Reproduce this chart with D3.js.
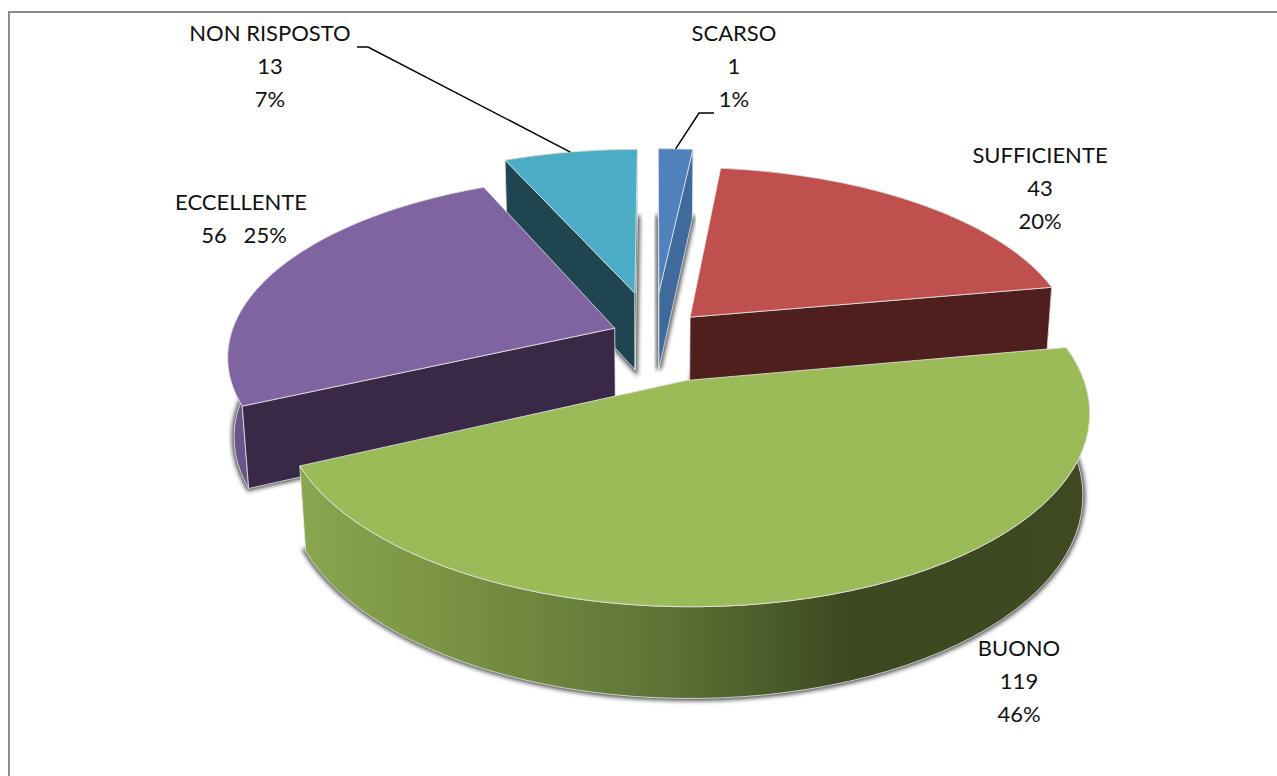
<!DOCTYPE html>
<html>
<head>
<meta charset="utf-8">
<script src="https://cdnjs.cloudflare.com/ajax/libs/d3/7.8.5/d3.min.js"></script>
<style>
  html, body { margin: 0; padding: 0; background: #fff; overflow: hidden; }
  text { font-family: Lato, "Open Sans", sans-serif; font-size: 22px; fill: #111; text-anchor: middle; }
</style>
</head>
<body>
<svg id="chart" width="1277" height="776"></svg>
<script>
// Data. The printed labels don't quite match the drawn
// angles, so the slice shares are kept apart from the printed numbers.
var categories = ["SCARSO", "SUFFICIENTE", "BUONO", "ECCELLENTE", "NON RISPOSTO"];
var counts = [1, 43, 119, 56, 13];
var percents = ["1%", "20%", "46%", "25%", "7%"];
var sliceShares = [1.7, 20.4, 45.9, 25.2, 6.6];
var explosion = [0.25, 0.14, 0.26, 0.11, 0.25];

var topColors = ["#4f81bd", "#c0504d", "#9bbb59", "#8064a2", "#4bacc6"];
var wallColors = ["#3f6a9c", "#4f1f1e", "#3e4a20", "#392947", "#1e4550"];
var rimColors = ["#3f6a9c", "#4f1f1e", "url(#greenRim)", "#6b5489", "#1e4550"];

var WIDTH = 1277, HEIGHT = 776;

// ── Projection ────────────────────────────────────────────────────
// Ground plane has radius 1, y grows towards the viewer, z is down the wall.
var CX = 654, CY = 335;
var K = 0.15, M = 0.015;
var xScale = d3.scaleLinear().domain([-1, 1]).range([CX - 384, CX + 384]);
var yScale = d3.scaleLinear().domain([-1, 1]).range([CY - 177, CY + 177]);
var zScale = d3.scaleLinear().domain([0, 1]).range([0, 80]);

function project(x, y, z) {
  var w = 1 - K * y + M * z;
  return [
    xScale(x / w),
    yScale(y / w) + zScale(z) / w
  ];
}

var pie = d3.pie().sort(null).value(function (d) { return d; });
var line = d3.line();

var slices = pie(sliceShares).map(function (arc, i) {
  var mid = (arc.startAngle + arc.endAngle) / 2;
  var ox = Math.sin(mid) * explosion[i];
  var oy = -Math.cos(mid) * explosion[i];
  var steps = d3.range(0, 61).map(function (s) {
    var a = arc.startAngle + (arc.endAngle - arc.startAngle) * s / 60;
    return [ox + Math.sin(a), oy - Math.cos(a)];
  });
  return { index: i, mid: mid, ox: ox, oy: oy, steps: steps };
});

function face(s, z) {
  var pts = s.steps.map(function (p) { return project(p[0], p[1], z); });
  pts.unshift(project(s.ox, s.oy, z));
  return pts;
}

// Signed screen area, used to drop the radial walls that face away.
function area(pts) {
  return d3.polygonArea(pts);
}

var svg = d3.select("#chart");
var defs = svg.append("defs");

var blur = defs.append("filter").attr("id", "soft")
  .attr("x", "-10%").attr("y", "-10%").attr("width", "120%").attr("height", "120%");
blur.append("feGaussianBlur").attr("stdDeviation", 2.2);

var grad = defs.append("linearGradient").attr("id", "greenRim")
  .attr("gradientUnits", "userSpaceOnUse")
  .attr("x1", 300).attr("y1", 0).attr("x2", 1090).attr("y2", 0);
[[0, "#8aa650"], [0.15, "#7d9745"], [0.45, "#5f7536"], [0.7, "#3c4820"], [1, "#3f4a22"]].forEach(function (s) {
  grad.append("stop").attr("offset", s[0]).attr("stop-color", s[1]);
});

// Frame runs off the right and bottom of the picture.
svg.append("rect")
  .attr("x", 9).attr("y", 12).attr("width", WIDTH + 40).attr("height", HEIGHT + 40)
  .attr("fill", "none").attr("stroke", "#8c8c8c").attr("stroke-width", 2);

// ── Shadows: blurred footprint of every slice ─────────────────────
svg.append("g").selectAll("path").data(slices).enter().append("path")
  .attr("d", function (s) { return line(face(s, 1)) + "Z"; })
  .attr("fill", "#555").attr("stroke", "#555").attr("stroke-width", 5)
  .attr("filter", "url(#soft)");

// ── Slices, far ones first ────────────────────────────────────────
var order = [4, 0, 1, 3, 2];

order.forEach(function (i) {
  var s = slices[i];
  var g = svg.append("g");
  var edge = { stroke: "#e9e9e9", width: 0.8 };

  var apexTop = project(s.ox, s.oy, 0), apexBot = project(s.ox, s.oy, 1);
  var first = s.steps[0], last = s.steps[s.steps.length - 1];

  // rim
  var rimTop = s.steps.map(function (p) { return project(p[0], p[1], 0); });
  var rimBot = s.steps.map(function (p) { return project(p[0], p[1], 1); });
  g.append("path")
    .attr("d", line(rimTop.concat(rimBot.reverse())) + "Z")
    .attr("fill", rimColors[i]).attr("stroke", edge.stroke).attr("stroke-width", edge.width);

  // radial walls
  var startWall = [apexTop, project(first[0], first[1], 0), project(first[0], first[1], 1), apexBot];
  var endWall = [apexTop, project(last[0], last[1], 0), project(last[0], last[1], 1), apexBot];
  [[startWall, area(startWall) > 0], [endWall, area(endWall) < 0]].forEach(function (w) {
    if (!w[1]) return;
    g.append("path").attr("d", line(w[0]) + "Z")
      .attr("fill", wallColors[i]).attr("stroke", edge.stroke).attr("stroke-width", edge.width);
  });

  // top
  g.append("path").attr("d", line(face(s, 0)) + "Z")
    .attr("fill", topColors[i]).attr("stroke", edge.stroke).attr("stroke-width", edge.width);
});

// ── Leader lines ──────────────────────────────────────────────────
function arcPoint(s) {
  return project(s.ox + Math.sin(s.mid), s.oy - Math.cos(s.mid), 0);
}
var leaderA = arcPoint(slices[4]);
svg.append("path")
  .attr("d", line([[357, 47], [368, 47], leaderA]))
  .attr("fill", "none").attr("stroke", "#000").attr("stroke-width", 1.5);
var leaderB = arcPoint(slices[0]);
svg.append("path")
  .attr("d", line([[714, 113], [699, 113], leaderB]))
  .attr("fill", "none").attr("stroke", "#000").attr("stroke-width", 1.5);

// ── Labels ────────────────────────────────────────────────────────
var labelPlace = [[734, 41], [1040, 162.5], [1019, 655.5], [241, 210], [270, 41]];
categories.forEach(function (name, i) {
  var lines = i === 3
    ? [name, counts[i] + "\u00a0\u00a0\u00a0" + percents[i]]
    : [name, String(counts[i]), percents[i]];
  lines.forEach(function (t, n) {
    svg.append("text")
      .attr("x", labelPlace[i][0] + (i === 3 && n === 1 ? 3 : 0))
      .attr("y", labelPlace[i][1] + n * 33)
      .text(t);
  });
});
</script>
</body>
</html>
